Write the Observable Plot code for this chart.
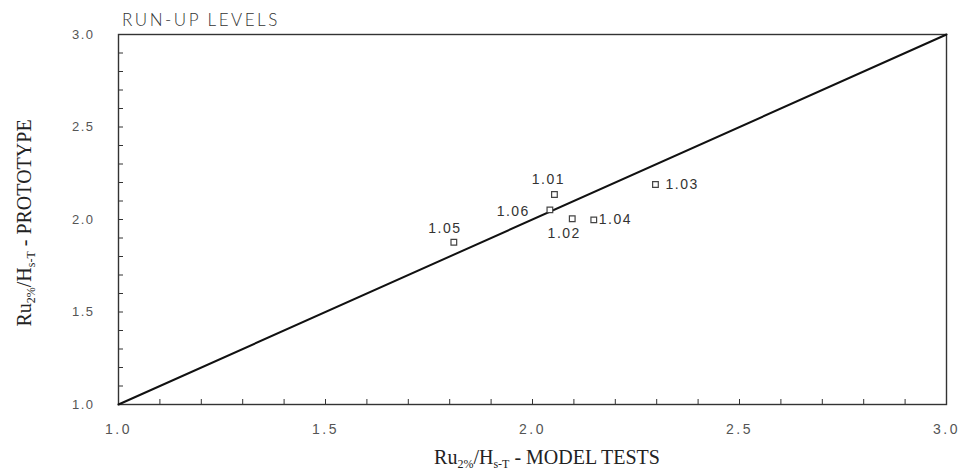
<!DOCTYPE html>
<html>
<head>
<meta charset="utf-8">
<script src="https://cdn.jsdelivr.net/npm/d3@7"></script>
<script src="https://cdn.jsdelivr.net/npm/@observablehq/plot@0.6"></script>
<style>
  body { margin: 0; background: #fff; }
  svg text { font-family: "Liberation Sans", Arial, sans-serif; }
  .ticklab text { letter-spacing: 1.5px; }
  .xlab text { letter-spacing: 2.5px; }
</style>
</head>
<body>
<div id="chart"></div>
<script>
// ---- data ----
const labels = ["1.01", "1.02", "1.03", "1.04", "1.05", "1.06"];
const modelTests = [2.053, 2.096, 2.297, 2.148, 1.810, 2.042];
const prototype = [2.135, 2.004, 2.189, 1.998, 1.877, 2.052];
const xTickLabels = [1.0, 1.5, 2.0, 2.5, 3.0];
const yTickLabels = [1.0, 1.5, 2.0, 2.5, 3.0];
const diagonal = [1, 3];
const title = "RUN-UP LEVELS";

const points = labels.map((l, i) => ({label: l, model: modelTests[i], proto: prototype[i]}));
const minor = d3.range(0, 21).map(i => 1 + i * 0.1);

// label placement (pixel offsets from each point)
const place = {
  "1.01": {dx: -6, dy: -15, textAnchor: "middle"},
  "1.02": {dx: -8, dy: 15, textAnchor: "middle"},
  "1.03": {dx: 10, dy: 0, textAnchor: "start"},
  "1.04": {dx: 5, dy: 0, textAnchor: "start"},
  "1.05": {dx: -9, dy: -14, textAnchor: "middle"},
  "1.06": {dx: -20, dy: 2, textAnchor: "end"}
};

const W = 959, H = 472, mL = 118, mR = 13, mT = 34, mB = 68;
const pw = W - mL - mR, ph = H - mT - mB;

const plot = Plot.plot({
  width: W, height: H,
  marginLeft: mL, marginRight: mR, marginTop: mT, marginBottom: mB,
  x: {domain: [1, 3]},
  y: {domain: [1, 3]},
  marks: [
    Plot.ruleX(minor, {x: d => d, insetTop: ph - 5, stroke: "#333", strokeWidth: 1}),
    Plot.ruleY(minor, {y: d => d, insetRight: pw - 5, stroke: "#333", strokeWidth: 1}),
    Plot.frame({stroke: "#333", strokeWidth: 1.4}),
    Plot.axisX({ticks: xTickLabels, tickSize: 0, tickPadding: 20, tickFormat: d3.format(".1f"),
      label: null, fontSize: 14, fill: "#555", className: "xlab"}),
    Plot.axisY({ticks: yTickLabels, tickSize: 0, tickPadding: 24, tickFormat: d3.format(".1f"),
      label: null, fontSize: 13, fill: "#555", className: "ticklab"}),
    Plot.line(diagonal, {x: d => d, y: d => d, stroke: "#111", strokeWidth: 2}),
    Plot.dot(points, {x: "model", y: "proto", symbol: "square", r: 3.2, stroke: "#444", fill: "white", strokeWidth: 1.2}),
    ...labels.map(l => Plot.text(points.filter(p => p.label === l), {
      x: "model", y: "proto", text: "label", fontSize: 14, fill: "#333",
      dx: place[l].dx, dy: place[l].dy, textAnchor: place[l].textAnchor, className: "ticklab"
    }))
  ]
});

document.getElementById("chart").appendChild(plot);

const svg = d3.select(plot);
svg.append("text")
  .attr("x", 122).attr("y", 26)
  .attr("text-anchor", "start")
  .attr("font-weight", 300)
  .attr("font-size", 17)
  .attr("letter-spacing", 2.5)
  .attr("fill", "#333")
  .style("font-family", "Lato, 'Open Sans', sans-serif")
  .text(title);

function axisTitle(sel, rest) {
  sel.style("font-family", "'Liberation Serif', 'Times New Roman', serif")
    .attr("font-size", 20).attr("fill", "#222").attr("text-anchor", "middle");
  sel.append("tspan").text("Ru");
  sel.append("tspan").attr("font-size", 12).attr("dy", 4).text("2%");
  sel.append("tspan").attr("dy", -4).text("/H");
  sel.append("tspan").attr("font-size", 12).attr("dy", 4).text("s-T");
  sel.append("tspan").attr("dy", -4).text(rest);
}

axisTitle(svg.append("text").attr("x", 547).attr("y", 464), " - MODEL TESTS");
axisTitle(svg.append("text").attr("transform", "translate(31,223) rotate(-90)"), " - PROTOTYPE");
</script>
</body>
</html>
